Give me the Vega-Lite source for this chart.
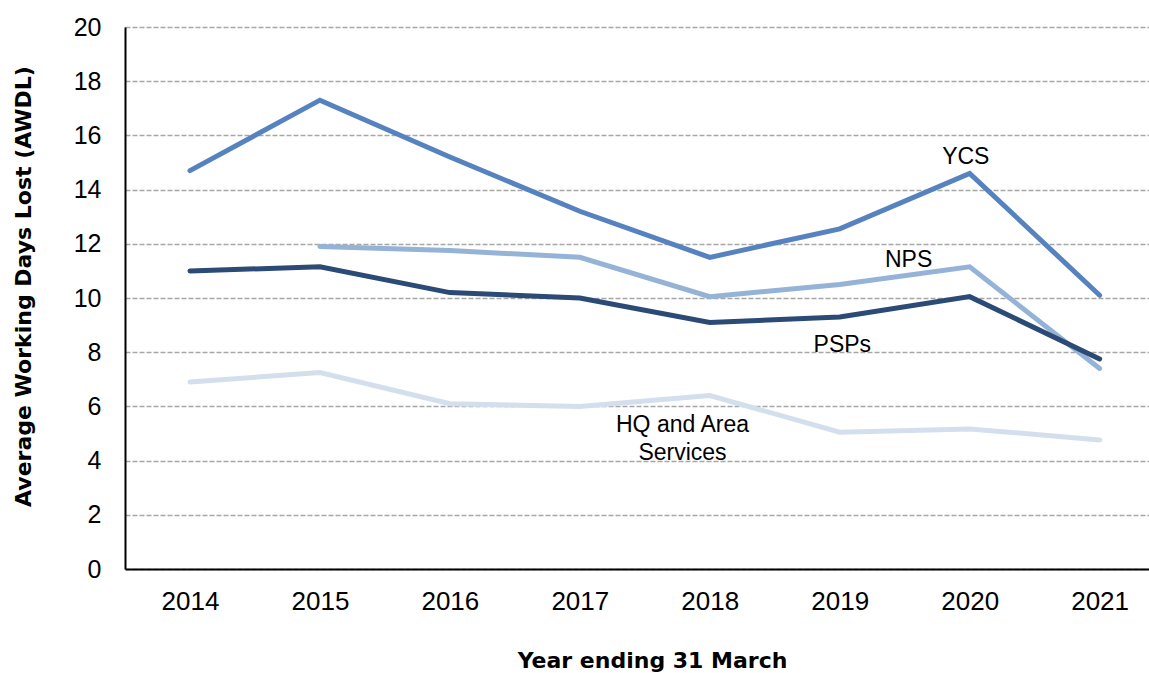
{
  "$schema": "https://vega.github.io/schema/vega-lite/v6.json",
  "autosize": "none",
  "width": 1024,
  "height": 542,
  "padding": {"left": 125, "top": 27, "right": 0, "bottom": 104},
  "background": "white",
  "config": {"view": {"stroke": null}, "font": "Liberation Sans"},
  "datasets": {
    "series": [
      {"year": 2014, "service": "YCS", "awdl": 14.7},
      {"year": 2015, "service": "YCS", "awdl": 17.3},
      {"year": 2016, "service": "YCS", "awdl": 15.2},
      {"year": 2017, "service": "YCS", "awdl": 13.2},
      {"year": 2018, "service": "YCS", "awdl": 11.5},
      {"year": 2019, "service": "YCS", "awdl": 12.55},
      {"year": 2020, "service": "YCS", "awdl": 14.6},
      {"year": 2021, "service": "YCS", "awdl": 10.1},
      {"year": 2015, "service": "NPS", "awdl": 11.9},
      {"year": 2016, "service": "NPS", "awdl": 11.75},
      {"year": 2017, "service": "NPS", "awdl": 11.5},
      {"year": 2018, "service": "NPS", "awdl": 10.05},
      {"year": 2019, "service": "NPS", "awdl": 10.5},
      {"year": 2020, "service": "NPS", "awdl": 11.15},
      {"year": 2021, "service": "NPS", "awdl": 7.4},
      {"year": 2014, "service": "PSPs", "awdl": 11.0},
      {"year": 2015, "service": "PSPs", "awdl": 11.15},
      {"year": 2016, "service": "PSPs", "awdl": 10.2},
      {"year": 2017, "service": "PSPs", "awdl": 10.0},
      {"year": 2018, "service": "PSPs", "awdl": 9.1},
      {"year": 2019, "service": "PSPs", "awdl": 9.3},
      {"year": 2020, "service": "PSPs", "awdl": 10.05},
      {"year": 2021, "service": "PSPs", "awdl": 7.75},
      {"year": 2014, "service": "HQ and Area Services", "awdl": 6.9},
      {"year": 2015, "service": "HQ and Area Services", "awdl": 7.25},
      {"year": 2016, "service": "HQ and Area Services", "awdl": 6.1},
      {"year": 2017, "service": "HQ and Area Services", "awdl": 6.0},
      {"year": 2018, "service": "HQ and Area Services", "awdl": 6.4},
      {"year": 2019, "service": "HQ and Area Services", "awdl": 5.05},
      {"year": 2020, "service": "HQ and Area Services", "awdl": 5.17},
      {"year": 2021, "service": "HQ and Area Services", "awdl": 4.76}
    ],
    "labels": [
      {"year": 2019.97, "awdl": 15.2, "label": ["YCS"]},
      {"year": 2019.53, "awdl": 11.4, "label": ["NPS"]},
      {"year": 2019.02, "awdl": 8.25, "label": ["PSPs"]},
      {"year": 2017.79, "awdl": 5.3, "label": ["HQ and Area", "Services"]}
    ]
  },
  "layer": [
    {
      "data": {"name": "series"},
      "mark": {"type": "line", "strokeWidth": 5, "strokeCap": "round", "strokeJoin": "miter"},
      "encoding": {
        "x": {
          "field": "year", "type": "quantitative",
          "scale": {"domain": [2013.5, 2021.38], "nice": false, "zero": false},
          "axis": {
            "values": [2014, 2015, 2016, 2017, 2018, 2019, 2020, 2021],
            "format": "d", "grid": false, "ticks": false,
            "domainColor": "black", "domainWidth": 2,
            "labelFontSize": 26, "labelColor": "black", "labelPadding": 19,
            "title": "Year ending 31 March",
            "titleFont": "DejaVu Sans", "titleFontSize": 22, "titleFontWeight": "bold", "titleColor": "black",
            "titleX": 527, "titleY": 91, "titleBaseline": "middle", "titleAlign": "center"
          }
        },
        "y": {
          "field": "awdl", "type": "quantitative",
          "scale": {"domain": [0, 20], "nice": false},
          "axis": {
            "values": [0, 2, 4, 6, 8, 10, 12, 14, 16, 18, 20],
            "grid": true, "gridColor": "#a6a6a6", "gridDash": [5, 2], "gridWidth": 1.5,
            "ticks": false, "domainColor": "black", "domainWidth": 2,
            "labelFontSize": 25, "labelColor": "black", "labelPadding": 24,
            "title": "Average Working Days Lost (AWDL)",
            "titleFont": "DejaVu Sans", "titleFontSize": 22, "titleFontWeight": "bold", "titleColor": "black",
            "titleAngle": -90, "titleX": -102, "titleY": 259, "titleBaseline": "middle", "titleAlign": "center"
          }
        },
        "color": {
          "field": "service", "type": "nominal",
          "scale": {
            "domain": ["YCS", "NPS", "PSPs", "HQ and Area Services"],
            "range": ["#5683bf", "#95b3d7", "#2b4a75", "#d4dfee"]
          },
          "legend": null
        },
        "order": {"field": "year", "type": "quantitative"}
      }
    },
    {
      "data": {"name": "labels"},
      "mark": {"type": "text", "fontSize": 23, "color": "black", "align": "center", "baseline": "middle", "lineHeight": 28},
      "encoding": {
        "x": {"field": "year", "type": "quantitative"},
        "y": {"field": "awdl", "type": "quantitative"},
        "text": {"field": "label"}
      }
    }
  ]
}
